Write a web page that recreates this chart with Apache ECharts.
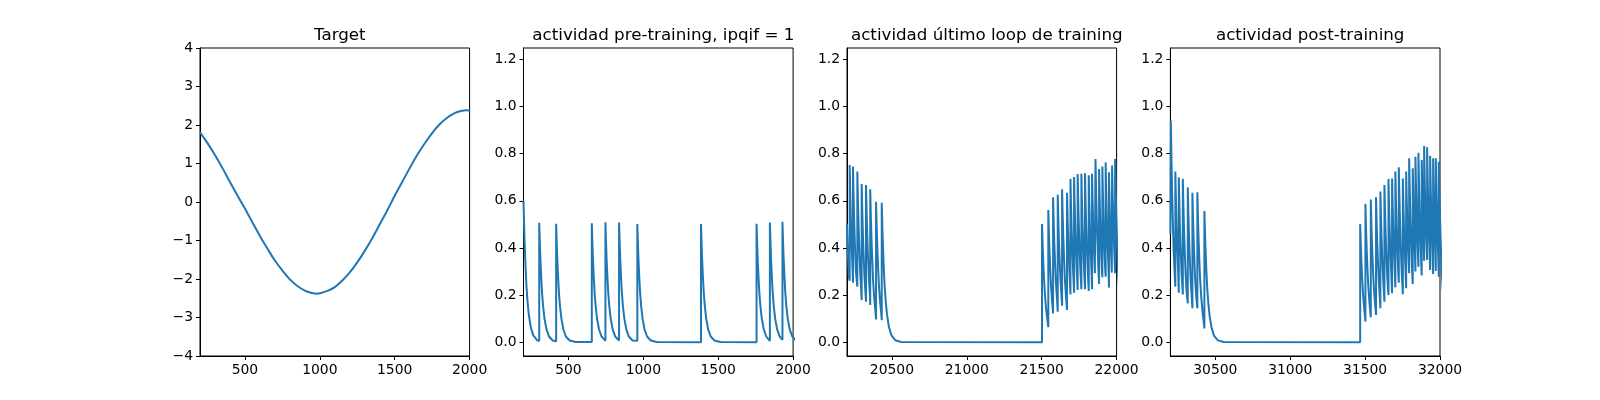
<!DOCTYPE html>
<html>
<head>
<meta charset="utf-8">
<script src="https://cdn.jsdelivr.net/npm/echarts@6.0.0/dist/echarts.min.js"></script>
<style>
  html, body { margin: 0; padding: 0; background: #fff; }
  #main { width: 1600px; height: 400px; }
</style>
</head>
<body>
<div id="main"></div>
<script>
// panel titles
var titles = ['Target', 'actividad pre-training, ipqif = 1', 'actividad último loop de training', 'actividad post-training'];

// target curve, read every 50 steps
var targetX = [200, 250, 300, 350, 400, 450, 500, 550, 600, 650, 700, 750, 800, 850, 900, 950, 975, 1000,
    1050, 1100, 1150, 1200, 1250, 1300, 1350, 1400, 1450, 1500, 1550, 1600, 1650, 1700, 1750, 1800,
    1850, 1900, 1950, 1975, 2000];
var targetY = [1.81, 1.53, 1.22, 0.88, 0.52, 0.17, -0.17, -0.53, -0.88, -1.21, -1.52, -1.78, -2.01,
    -2.18, -2.30, -2.365, -2.38, -2.37, -2.31, -2.21, -2.04, -1.83, -1.57, -1.27, -0.94, -0.58, -0.22, 0.16,
    0.52, 0.88, 1.22, 1.52, 1.79, 2.02, 2.19, 2.31, 2.37, 2.38, 2.375];

// pre-training spikes: time, peak, value just before the spike
var preT = [200, 305, 418, 656, 747, 838, 960, 1385, 1756, 1845, 1929];
var prePeak = [0.60, 0.507, 0.503, 0.505, 0.509, 0.508, 0.502, 0.502, 0.503, 0.508, 0.511];
var preBase = [0.60, 0.006, 0.005, 0.001, 0.007, 0.008, 0.007, 0.0, 0.0, 0.006, 0.01];

// last training loop
var trainT = [20200, 20218, 20240, 20269, 20298, 20327, 20355, 20394, 20432,
    21502, 21544, 21576, 21607, 21636, 21669, 21692, 21716, 21740, 21765,
    21789, 21814, 21836, 21859, 21883, 21905, 21927, 21949, 21970, 21990];
var trainPeak = [0.50, 0.752, 0.745, 0.724, 0.671, 0.667, 0.649, 0.596, 0.592,
    0.502, 0.561, 0.615, 0.626, 0.649, 0.634, 0.693, 0.701, 0.714, 0.715,
    0.717, 0.708, 0.715, 0.777, 0.735, 0.745, 0.763, 0.721, 0.75, 0.777];
var trainBase = [0.50, 0.261, 0.253, 0.236, 0.179, 0.172, 0.158, 0.097, 0.094,
    0.0, 0.064, 0.123, 0.130, 0.155, 0.137, 0.203, 0.210, 0.222, 0.225,
    0.225, 0.218, 0.225, 0.290, 0.247, 0.276, 0.278, 0.232, 0.293, 0.293];

// post-training
var postT = [30200, 30203, 30233, 30256, 30283, 30316, 30347, 30380, 30427,
    31467, 31502, 31538, 31573, 31602, 31629, 31656, 31680, 31702, 31725,
    31752, 31774, 31794, 31818, 31836, 31856, 31878, 31894, 31914, 31934,
    31954, 31972, 31992];
var postPeak = [0.46, 0.94, 0.724, 0.70, 0.693, 0.657, 0.634, 0.636, 0.557,
    0.502, 0.587, 0.606, 0.615, 0.639, 0.667, 0.693, 0.695, 0.724, 0.742,
    0.695, 0.724, 0.780, 0.738, 0.787, 0.804, 0.773, 0.832, 0.827, 0.791,
    0.78, 0.78, 0.766];
var postBase = [0.46, 0.46, 0.236, 0.21, 0.203, 0.165, 0.144, 0.144, 0.059,
    0.0, 0.088, 0.106, 0.116, 0.144, 0.172, 0.2, 0.208, 0.233, 0.253,
    0.204, 0.229, 0.293, 0.247, 0.30, 0.32, 0.283, 0.346, 0.349, 0.307,
    0.29, 0.302, 0.278];

// shape of the fall after a spike (steps after spike, fraction of peak)
var decayOff = [0, 4, 8, 13, 19, 26, 35, 48, 65, 90, 130, 180];
var decayFrac = [1, 0.83, 0.69, 0.55, 0.41, 0.30, 0.20, 0.11, 0.049, 0.015, 0.002, 0];

// tick labels
var xTicks = [
    [500, 1000, 1500, 2000],
    [500, 1000, 1500, 2000],
    [20500, 21000, 21500, 22000],
    [30500, 31000, 31500, 32000]
];
var xRange = [[200, 2000], [200, 2000], [20200, 22000], [30200, 32000]];
var actTicks = [0, 0.2, 0.4, 0.6, 0.8, 1.0, 1.2];

function buildTrace(ts, peaks, bases) {
    var pts = [];
    for (var i = 0; i < ts.length; i++) {
        pts.push([ts[i], bases[i]]);
        pts.push([ts[i], peaks[i]]);
        var next = i < ts.length - 1 ? ts[i + 1] : Infinity;
        var nextBase = i < ts.length - 1 ? bases[i + 1] : -1;
        for (var k = 1; k < decayOff.length; k++) {
            if (ts[i] + decayOff[k] >= next - 1) break;
            var v = peaks[i] * decayFrac[k];
            if (v <= nextBase) break;
            pts.push([ts[i] + decayOff[k], v]);
        }
    }
    return pts;
}

var FONT = 'DejaVu Sans';
var BLUE = '#1f77b4';
var gridLeft = [200, 523.5, 847, 1170.4];
var gridW = 269.6;

var grids = [], xAxes = [], yAxes = [], titleList = [];
for (var i = 0; i < 4; i++) {
    grids.push({
        left: gridLeft[i], top: 48, width: gridW, height: 308,
        show: true, borderColor: '#000', borderWidth: 1,
        backgroundColor: 'transparent', outerBoundsMode: 'none'
    });
    titleList.push({
        text: titles[i], left: gridLeft[i] + gridW / 2, top: 22, textAlign: 'center',
        textStyle: {fontFamily: FONT, fontSize: 16.7, fontWeight: 'normal', color: '#000'}
    });
    xAxes.push({
        gridIndex: i, type: 'value', min: xRange[i][0], max: xRange[i][1],
        axisLine: {show: true, onZero: false, lineStyle: {color: '#000', width: 1}},
        axisTick: {show: true, inside: false, length: 4, lineStyle: {color: '#000', width: 1}, customValues: xTicks[i]},
        axisLabel: {show: true, customValues: xTicks[i], color: '#000', fontFamily: FONT, fontSize: 13.9, margin: 7,
            formatter: function(v) { return String(v); }},
        splitLine: {show: false}
    });
    if (i === 0) {
        yAxes.push({
            gridIndex: i, type: 'value', min: -4, max: 4, interval: 1,
            axisLine: {show: true, onZero: false, lineStyle: {color: '#000', width: 1}},
            axisTick: {show: true, inside: false, length: 4, lineStyle: {color: '#000', width: 1}},
            axisLabel: {color: '#000', fontFamily: FONT, fontSize: 13.9, margin: 7,
                formatter: function(v) { return String(v).replace('-', '\u2212'); }},
            splitLine: {show: false}
        });
    } else {
        yAxes.push({
            gridIndex: i, type: 'value', min: -0.058, max: 1.248,
            axisLine: {show: true, onZero: false, lineStyle: {color: '#000', width: 1}},
            axisTick: {show: true, inside: false, length: 4, lineStyle: {color: '#000', width: 1}, customValues: actTicks},
            axisLabel: {customValues: actTicks, color: '#000', fontFamily: FONT, fontSize: 13.9, margin: 7,
                formatter: function(v) { return v.toFixed(1); }},
            splitLine: {show: false}
        });
    }
}

var targetData = [];
for (var j = 0; j < targetX.length; j++) {
    targetData.push([targetX[j], targetY[j]]);
}

var lineBase = {type: 'line', showSymbol: false, clip: true, lineStyle: {color: BLUE, width: 2}, itemStyle: {color: BLUE}};
var series = [
    Object.assign({}, lineBase, {xAxisIndex: 0, yAxisIndex: 0, smooth: 0.4, data: targetData}),
    Object.assign({}, lineBase, {xAxisIndex: 1, yAxisIndex: 1, data: buildTrace(preT, prePeak, preBase)}),
    Object.assign({}, lineBase, {xAxisIndex: 2, yAxisIndex: 2, data: buildTrace(trainT, trainPeak, trainBase)}),
    Object.assign({}, lineBase, {xAxisIndex: 3, yAxisIndex: 3, data: buildTrace(postT, postPeak, postBase)})
];

var chart = echarts.init(document.getElementById('main'), null, {renderer: 'canvas'});
chart.setOption({
    backgroundColor: '#fff',
    animation: false,
    title: titleList,
    grid: grids,
    xAxis: xAxes,
    yAxis: yAxes,
    series: series
});
</script>
</body>
</html>
